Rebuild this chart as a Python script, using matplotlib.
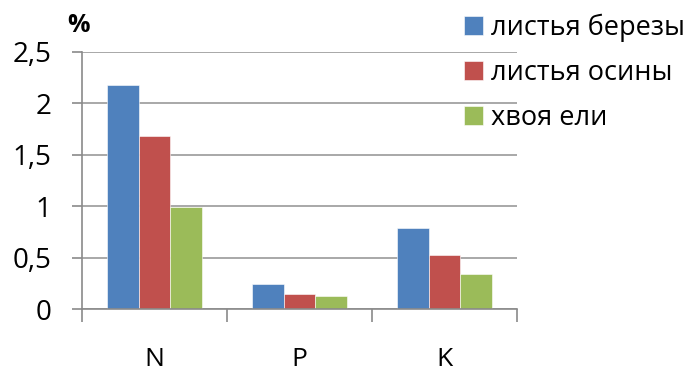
import numpy as np
import matplotlib.pyplot as plt

plt.rcParams['font.family'] = ['Open Sans', 'DejaVu Sans']

elements = ['N', 'P', 'K']
series = ['листья березы', 'листья осины', 'хвоя ели']
birch = [2.18, 0.24, 0.79]
aspen = [1.68, 0.15, 0.53]
spruce = [0.99, 0.13, 0.34]
colors = ['#4F81BD', '#C0504D', '#9BBB59']

fig = plt.figure(figsize=(6.92, 3.73), dpi=100)
ax = fig.add_axes([82 / 692, 1 - 309 / 373, (517 - 82) / 692, (309 - 52) / 373])

x = np.arange(len(elements)) + 0.5
w = 0.22
for k, (vals, name, c) in enumerate(zip([birch, aspen, spruce], series, colors)):
    ax.bar(x + (k - 1) * w, vals, w, color=c, label=name, zorder=3,
           edgecolor='white', linewidth=0.4)

ax.set_xlim(0, 3)
ax.set_ylim(0, 2.5)
ax.set_yticks([0, 0.5, 1, 1.5, 2, 2.5])
ax.set_yticklabels(['0', '0,5', '1', '1,5', '2', '2,5'])
ax.yaxis.grid(True, color='#9a9a9a', linewidth=1.2, zorder=0)
ax.tick_params(axis='y', labelsize=20, length=7, width=1.2, color='#8a8a8a', pad=15)

# category labels sit between boundary ticks
ax.set_xticks(x)
ax.set_xticklabels(elements)
ax.tick_params(axis='x', which='major', length=0, labelsize=19, pad=27)
ax.set_xticks([0, 1, 2, 3], minor=True)
ax.tick_params(axis='x', which='minor', length=9, width=1.2, color='#8a8a8a')

for s in ['top', 'right']:
    ax.spines[s].set_visible(False)
for s in ['left', 'bottom']:
    ax.spines[s].set_color('#8a8a8a')
    ax.spines[s].set_linewidth(1.2)
ax.spines['bottom'].set_zorder(4)

fig.text(78 / 692, 1 - 25 / 373, '%', fontsize=18, fontweight='bold',
         ha='center', va='center')

fig.legend(loc='upper left', bbox_to_anchor=(464 / 692, 1 - 14 / 373),
           frameon=False, fontsize=19.5, handlelength=0.7, handleheight=0.7,
           handletextpad=0.3, labelspacing=0.62, borderaxespad=0, borderpad=0)

fig.savefig('out.png', dpi=100)
